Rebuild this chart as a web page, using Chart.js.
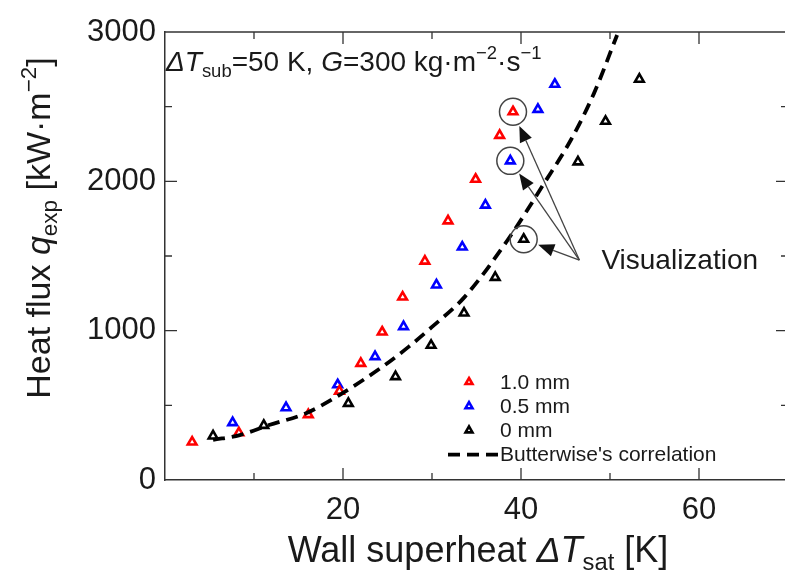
<!DOCTYPE html>
<html>
<head>
<meta charset="utf-8">
<script src="https://cdn.jsdelivr.net/npm/chart.js@4/dist/chart.umd.min.js"></script>
<style>
  html, body { margin: 0; padding: 0; background: #fff; overflow: hidden; }
  #wrap { width: 800px; height: 576px; position: relative; }
</style>
</head>
<body>
<div id="wrap"><canvas id="chart"></canvas></div>
<script>
// ---- data ----
const redX   = [3.05, 8.3, 16.1, 19.6, 22.0, 24.4, 26.7, 29.2, 31.8, 34.9, 37.6, 39.1];
const redY   = [254, 316, 438, 595, 781, 991, 1225, 1466, 1735, 2014, 2308, 2466];
const blueX  = [7.6, 13.6, 19.4, 23.6, 26.8, 30.5, 33.4, 36.0, 38.8, 41.9, 43.8];
const blueY  = [384, 484, 638, 826, 1027, 1306, 1560, 1841, 2137, 2482, 2650];
const blackX = [5.4, 11.1, 20.6, 25.9, 29.9, 33.6, 37.1, 40.3, 46.4, 49.5, 53.3];
const blackY = [295, 366, 513, 692, 902, 1118, 1357, 1612, 2130, 2402, 2684];
const corrX  = [5.4, 8.4, 11.7, 15.8, 19.9, 24.4, 27.4, 30.0, 33.7, 38.5, 42.6, 45.6, 48.2, 50.8];
const corrY  = [268, 301, 368, 446, 580, 757, 893, 1025, 1228, 1607, 1987, 2277, 2589, 2980];
const seriesLabels = ['1.0 mm', '0.5 mm', '0 mm', "Butterwise's correlation"];
const xTicksLabeled = [20, 40, 60];
const yTicksLabeled = [0, 1000, 2000, 3000];

// circled points: [dataset index, point index]
const circled = [[1, 11], [2, 8], [3, 7]];
const arrowFrom = { x: 46.56, y: 1473 };   // where the three arrows meet
const visLabel = 'Visualization';

const FONT = '"Liberation Sans", Arial, sans-serif';
const INK = '#1a1a1a';
const FRAME = '#333';

const pts = (xs, ys) => xs.map((x, i) => ({ x: x, y: ys[i] }));

function marker(color) {
    return {
        showLine: false,
        pointStyle: 'triangle',
        pointRadius: 5,
        pointHoverRadius: 5,
        borderWidth: 2.6,
        borderColor: color,
        backgroundColor: '#fff'
    };
}

// draw text with italic / sub / sup pieces
function richWidth(ctx, parts, size) {
    let w = 0;
    parts.forEach(p => {
        const s = (p.sub || p.sup) ? size * 0.66 : size;
        ctx.font = (p.it ? 'italic ' : '') + s + 'px ' + FONT;
        w += ctx.measureText(p.t).width;
    });
    return w;
}
function drawRich(ctx, parts, x, y, size) {
    let cx = x;
    parts.forEach(p => {
        const s = (p.sub || p.sup) ? size * 0.66 : size;
        ctx.font = (p.it ? 'italic ' : '') + s + 'px ' + FONT;
        const dy = p.sub ? size * 0.22 : (p.sup ? -size * 0.42 : 0);
        ctx.fillText(p.t, cx, y + dy);
        cx += ctx.measureText(p.t).width;
    });
}

const decor = {
    id: 'decor',
    afterDraw(chart) {
        const ctx = chart.ctx;
        const xs = chart.scales.x, ys = chart.scales.y;
        const a = chart.chartArea;
        ctx.save();

        // frame (top)
        ctx.strokeStyle = FRAME;
        ctx.lineWidth = 1.5;
        ctx.beginPath();
        ctx.moveTo(a.left, a.top); ctx.lineTo(a.right, a.top);
        ctx.stroke();

        // inward ticks
        ctx.lineWidth = 1.3;
        ctx.beginPath();
        for (let v = 10; v < 70; v += 10) {
            const px = xs.getPixelForValue(v);
            const len = v % 20 === 0 ? 12 : 7;
            ctx.moveTo(px, a.bottom); ctx.lineTo(px, a.bottom - len);
            ctx.moveTo(px, a.top); ctx.lineTo(px, a.top + len);
        }
        for (let v = 500; v < 3000; v += 500) {
            const py = ys.getPixelForValue(v);
            const len = v % 1000 === 0 ? 12 : 7;
            ctx.moveTo(a.left, py); ctx.lineTo(a.left + len, py);
            ctx.moveTo(a.right, py); ctx.lineTo(a.right - len, py);
        }
        ctx.stroke();

        // condition text
        ctx.fillStyle = INK;
        ctx.textBaseline = 'alphabetic';
        ctx.textAlign = 'left';
        drawRich(ctx, [
            { t: '\u0394T', it: true }, { t: 'sub', sub: true },
            { t: '=50 K, ' }, { t: 'G', it: true }, { t: '=300 kg\u00b7m' },
            { t: '\u22122', sup: true }, { t: '\u00b7s' }, { t: '\u22121', sup: true }
        ], a.left + 1, 71, 28);

        // axis titles
        const xt = [{ t: 'Wall superheat ' }, { t: '\u0394T', it: true }, { t: 'sat', sub: true }, { t: ' [K]' }];
        const xw = richWidth(ctx, xt, 36);
        drawRich(ctx, xt, 478 - xw / 2, 562, 36);

        const yt = [{ t: 'Heat flux ' }, { t: 'q', it: true }, { t: 'exp', sub: true },
                    { t: ' [kW\u00b7m' }, { t: '\u22122', sup: true }, { t: ']' }];
        const yw = richWidth(ctx, yt, 34);
        ctx.save();
        ctx.translate(50, 228);
        ctx.rotate(-Math.PI / 2);
        drawRich(ctx, yt, -yw / 2, 0, 34);
        ctx.restore();

        // circles + arrows
        const sx = xs.getPixelForValue(arrowFrom.x), sy = ys.getPixelForValue(arrowFrom.y);
        ctx.strokeStyle = '#444';
        ctx.fillStyle = '#111';
        circled.forEach(([di, pi]) => {
            const el = chart.getDatasetMeta(di).data[pi];
            const r = 13.5;
            ctx.lineWidth = 1.5;
            ctx.beginPath(); ctx.arc(el.x, el.y, r, 0, Math.PI * 2); ctx.stroke();
            const dx = sx - el.x, dy = sy - el.y, d = Math.hypot(dx, dy);
            const ux = dx / d, uy = dy / d;
            const tx = el.x + ux * (r + 2), ty = el.y + uy * (r + 2);
            const hl = 16, hw = 6.5;
            const bx = tx + ux * hl, by = ty + uy * hl;
            ctx.lineWidth = 1.3;
            ctx.beginPath(); ctx.moveTo(sx, sy); ctx.lineTo(bx, by); ctx.stroke();
            ctx.beginPath();
            ctx.moveTo(tx, ty);
            ctx.lineTo(bx - uy * hw, by + ux * hw);
            ctx.lineTo(bx + uy * hw, by - ux * hw);
            ctx.closePath(); ctx.fill();
        });
        ctx.fillStyle = INK;
        ctx.font = '28px ' + FONT;
        ctx.textBaseline = 'middle';
        ctx.fillText(visLabel, sx + 22, sy + 1);

        // legend
        const lx = 469, ly0 = 382, step = 24.2;
        ctx.font = '21px ' + FONT;
        ctx.textBaseline = 'middle';
        chart.data.datasets.forEach(ds => {
            const y = ly0 + ds.legendRow * step;
            if (ds.pointRadius > 0) {
                ctx.save();
                ctx.lineWidth = ds.borderWidth;
                ctx.strokeStyle = ds.borderColor;
                ctx.fillStyle = ds.backgroundColor;
                Chart.helpers.drawPoint(ctx, { pointStyle: 'triangle', radius: 4, rotation: 0, borderWidth: ds.borderWidth }, lx, y);
                ctx.restore();
            } else {
                ctx.save();
                ctx.strokeStyle = ds.borderColor;
                ctx.lineWidth = ds.borderWidth;
                ctx.setLineDash(ds.borderDash);
                ctx.beginPath(); ctx.moveTo(lx - 21, y); ctx.lineTo(lx + 29, y); ctx.stroke();
                ctx.restore();
            }
            ctx.fillStyle = INK;
            ctx.fillText(ds.label, 500, y + 1);
        });
        ctx.restore();
    }
};

new Chart(document.getElementById('chart'), {
    type: 'scatter',
    data: {
        datasets: [
            {
                label: seriesLabels[3], legendRow: 3,
                data: pts(corrX, corrY),
                showLine: true, pointRadius: 0, pointHoverRadius: 0,
                borderColor: '#000', borderWidth: 3.8, borderDash: [12, 7],
                cubicInterpolationMode: 'monotone', fill: false
            },
            Object.assign({ label: seriesLabels[0], legendRow: 0, data: pts(redX, redY) }, marker('#ff0000')),
            Object.assign({ label: seriesLabels[1], legendRow: 1, data: pts(blueX, blueY) }, marker('#0000ff')),
            Object.assign({ label: seriesLabels[2], legendRow: 2, data: pts(blackX, blackY) }, marker('#000000'))
        ]
    },
    options: {
        responsive: true,
        maintainAspectRatio: false,
        animation: false,
        layout: { padding: { top: 32, right: 8.5, left: 0, bottom: 0 } },
        plugins: { legend: { display: false }, tooltip: { enabled: false } },
        scales: {
            x: {
                type: 'linear', min: 0, max: 70,
                grid: { display: false, drawTicks: false },
                border: { display: true, color: FRAME, width: 1.5 },
                ticks: {
                    stepSize: 10, autoSkip: false, maxRotation: 0, padding: 12,
                    color: INK, font: { family: FONT, size: 31 },
                    callback: v => xTicksLabeled.includes(v) ? String(v) : ''
                },
                afterFit: s => { s.height = 96; }
            },
            y: {
                type: 'linear', min: 0, max: 3000,
                grid: { display: false, drawTicks: false },
                border: { display: true, color: FRAME, width: 1.5 },
                ticks: {
                    stepSize: 500, autoSkip: false, padding: 9,
                    color: INK, font: { family: FONT, size: 31 },
                    callback: v => yTicksLabeled.includes(v) ? String(v) : ''
                },
                afterFit: s => { s.width = 165; }
            }
        }
    },
    plugins: [decor]
});
</script>
</body>
</html>
